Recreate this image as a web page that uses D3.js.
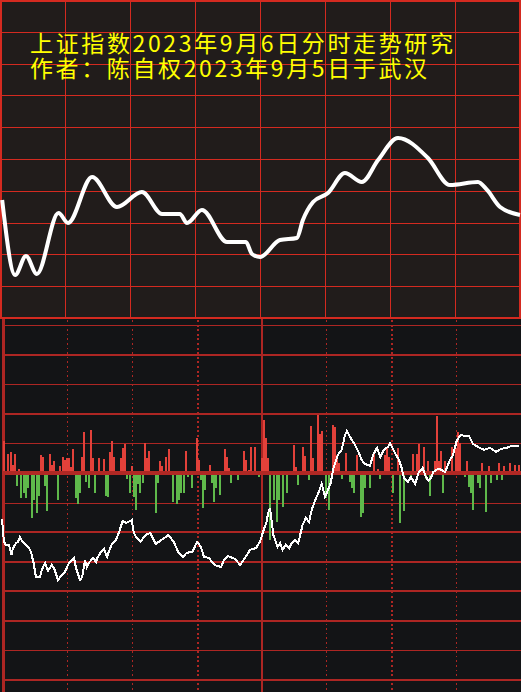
<!DOCTYPE html>
<html><head><meta charset="utf-8">
<script src="https://cdn.jsdelivr.net/npm/d3@7/dist/d3.min.js"></script>
<style>html,body{margin:0;padding:0;background:#131416;overflow:hidden}</style>
</head><body><svg id="c" width="521" height="692"></svg>
<script>
// ---------------- DATA ----------------
const titleLines = ["上证指数2023年9月6日分时走势研究", "作者：陈自权2023年9月5日于武汉"];

// upper panel: forecast curve (minute of session, index level)
const topMinutes = [1, 7, 12, 17, 27, 31.4, 42.5, 54, 65.5, 74.8, 83, 86.3, 93.2, 104.8, 113.5, 116.3, 120, 129.2, 137, 139.8, 144.5, 151.4, 159.2, 167, 174.5, 183.7, 197.5, 207.7, 220.6, 224.8, 230.8, 240];
const topValues  = [3148.55, 3136.76, 3139.75, 3136.92, 3146.51, 3144.94, 3152.17, 3147.45, 3149.81, 3146.35, 3146.35, 3144.94, 3146.98, 3141.95, 3141.95, 3140.06, 3139.59, 3142.26, 3142.58, 3145.41, 3148.24, 3149.65, 3152.80, 3151.38, 3154.84, 3158.30, 3155.16, 3150.91, 3151.38, 3150.13, 3147.45, 3146.19];
const topGridValues = [3135, 3140, 3145, 3150, 3155, 3160, 3165, 3170, 3175];
const gridMinutes = [30, 60, 90, 120, 150, 180, 210];

// lower panel: per-minute bars (positive = red, negative = green)
const volMinutes = [1,3,4,5,6,7,8,9,10,11,12,14,15,16,17,18,19,20,21,22,23,24,26,27,28,29,30,31,32,33,34,35,36,37,38,39,40,41,42,43,45,47,48,49,50,51,52,55,56,57,58,59,60,61,62,63,64,65,66,67,68,71,72,73,74,76,77,79,81,82,83,84,85,86,88,90,91,92,93,94,96,97,98,99,101,103,104,105,106,107,109,112,113,114,115,117,119,120,121,122,123,124,126,127,128,130,132,135,136,137,139,140,142,143,144,146,147,148,150,151,153,154,155,156,157,159,161,162,163,164,166,167,168,170,172,174,175,177,178,179,181,183,184,186,189,190,192,193,195,196,197,198,200,201,202,203,204,205,208,210,211,212,214,215,216,217,218,219,220,221,222,224,225,226,229,230,231,232,235,237,239];
const volValues  = [10.8,6.4,7.1,2.7,6.4,-3.7,1.4,-7.8,-6.1,-7.8,-4.4,-14.5,-8.5,-12.8,-7.1,6.1,5.4,-3.7,-12.2,6.4,2.7,4.1,-8.5,2.4,5.4,4.4,5.1,5.1,2.0,8.1,-7.8,-9.8,-6.1,5.4,13.9,-2.4,-4.4,14.5,5.1,-6.1,5.1,4.7,-7.1,-7.4,7.1,10.8,5.4,5.1,8.5,9.8,-1.4,-6.1,2.4,-7.4,-11.8,-3.0,-6.1,-2.7,10.1,5.1,7.4,-12.8,-2.7,4.1,2.4,5.4,8.1,-9.1,-9.8,-8.5,-6.1,-6.1,7.4,-0.7,-4.4,11.8,4.4,-1.7,-11.2,-5.1,2.7,-2.7,-9.1,-4.4,-6.8,8.1,5.4,1.7,-2.7,0.7,-1.7,7.4,4.4,1.0,8.8,8.8,-0.7,5.1,17.9,11.8,5.1,-22.0,-8.5,-15.9,-8.5,-10.8,-6.1,9.5,2.0,-3.4,8.8,5.7,-1.7,15.9,5.1,19.6,13.2,14.2,-7.8,-11.8,16.2,15.5,6.1,3.4,-1.4,6.8,-2.4,-4.4,-6.1,6.1,-14.2,-12.8,-4.4,-4.4,6.4,1.4,-1.4,6.1,8.8,5.4,-6.1,8.5,-16.2,-12.2,-1.7,6.4,6.4,9.8,8.8,-1.4,4.1,-7.1,4.1,19.3,4.1,7.4,-6.1,4.1,8.8,8.5,13.9,10.1,-0.7,4.1,-4.1,-6.1,-11.8,0.7,-2.7,-4.4,3.4,-12.5,2.4,-2.7,-1.7,3.4,-1.7,2.4,3.4,2.7,2.7];

// lower panel: intraday line
const lowMinutes = [0,0.5,0.9,1.8,3.2,4.4,5.1,6.5,7.4,8.3,9.5,11.1,12.5,13.4,14.6,15.7,17.6,18.4,19.9,21.3,23.0,24.0,25.9,27.7,29.1,30.7,32.2,33.3,34.2,36.1,37.1,38.4,39.2,40.2,42.1,43.5,44.1,45.8,47.2,48.6,49.2,50.7,52.7,54.2,55.8,57.3,58.4,60.0,61.0,62.3,64.1,66.3,68.6,71.1,73.9,76.9,79.4,81.5,83.7,85.4,88.1,90.2,92.0,93.4,95.7,98.2,101.3,102.7,104.5,107.7,110.1,112.4,114.7,117.5,119.3,120.7,122.3,123.1,123.9,125.5,127.4,128.6,129.7,131.2,132.8,134.0,135.5,137.0,139.0,140.5,142.0,143.2,144.9,146.3,147.8,149.4,152.0,153.3,155.3,157.1,158.6,159.5,160.9,163.2,164.8,166.3,167.9,170.2,171.6,173.4,174.9,176.6,178.5,179.4,181.7,183.6,184.8,185.9,187.7,189.1,191.0,192.8,194.5,195.8,197.2,198.4,199.4,200.7,202.3,204.9,207.2,208.6,210.4,212.3,214.1,216.0,217.8,220.1,222.9,225.7,228.4,230.8,233.5,235.4,237.2,239.1];
const lowValues  = [-15.5,-19.9,-23.3,-24.3,-24.3,-27.7,-25.4,-23.7,-23.3,-21.6,-23.3,-24.3,-25.4,-26.7,-30.4,-35.2,-35.2,-32.8,-30.4,-33.1,-31.1,-32.1,-36.2,-34.5,-33.5,-30.8,-29.7,-28.7,-32.1,-36.2,-35.2,-29.4,-31.8,-30.4,-28.7,-30.1,-28.7,-26.7,-25.7,-28.4,-27.0,-24.3,-22.6,-19.9,-16.2,-16.9,-16.6,-15.9,-20.3,-22.0,-23.3,-21.0,-20.3,-24.0,-22.6,-21.0,-23.3,-26.7,-28.4,-27.0,-26.7,-23.3,-25.0,-28.4,-28.7,-31.1,-31.8,-29.4,-28.1,-29.1,-31.1,-28.7,-26.0,-25.4,-23.3,-19.9,-16.6,-13.5,-11.8,-21.0,-25.0,-23.7,-26.0,-24.3,-25.4,-23.7,-22.6,-23.7,-17.6,-15.2,-16.6,-12.5,-9.1,-6.8,-3.7,-8.1,-3.4,1.7,6.1,7.8,12.8,14.2,12.2,9.5,7.1,4.4,3.0,2.4,6.1,8.5,5.4,7.8,8.8,10.1,6.8,4.4,1.7,-1.7,-3.0,-1.4,-3.7,0.3,1.7,-1.0,-2.7,-1.7,0.3,1.0,1.4,0.3,4.4,6.1,11.2,12.8,12.5,12.5,9.8,8.8,7.8,8.5,7.1,8.1,8.5,9.1,9.1,9.1];
const lowGridValues = [50, 40, 30, 20, 10, 0, -10, -20, -30, -40, -50, -60, -70];

// ---------------- DRAW ----------------
const svg = d3.select("#c");
const RED = "#d42a20", LRED = "#ad2623";

// ---- upper panel
const xTop = d3.scaleLinear().domain([0, 240]).range([0, 520]);
const yTop = d3.scaleLinear().domain([3130, 3180]).range([318, 0]);
svg.append("rect").attr("x", 0).attr("y", 0).attr("width", 521).attr("height", 319).attr("fill", "#211c1b");
const gTop = svg.append("g").attr("shape-rendering", "crispEdges");
gTop.selectAll("line.h").data(topGridValues).join("line")
  .attr("x1", 0).attr("x2", 521).attr("y1", d => Math.round(yTop(d)) + 0.5).attr("y2", d => Math.round(yTop(d)) + 0.5)
  .attr("stroke", RED).attr("stroke-width", 1);
gTop.selectAll("line.v").data(gridMinutes).join("line")
  .attr("y1", 0).attr("y2", 318).attr("x1", d => Math.round(xTop(d)) + 0.5).attr("x2", d => Math.round(xTop(d)) + 0.5)
  .attr("stroke", RED).attr("stroke-width", 1);
gTop.append("rect").attr("x", 1).attr("y", 1).attr("width", 519).attr("height", 317)
  .attr("fill", "none").attr("stroke", RED).attr("stroke-width", 2);

const topData = topMinutes.map((m, i) => [m, topValues[i]]);
svg.append("path").datum(topData)
  .attr("d", d3.line().x(d => xTop(d[0])).y(d => yTop(d[1])).curve(d3.curveMonotoneX))
  .attr("fill", "none").attr("stroke", "#fff").attr("stroke-width", 4).attr("stroke-linejoin", "round");

// title
svg.selectAll("text.title").data(titleLines).join("text")
  .attr("x", 30).attr("y", (d, i) => 52 + i * 25)
  .attr("font-family", "'Noto Sans CJK SC', sans-serif").attr("font-size", 23)
  .attr("fill", "#ffff00")
  .attr("textLength", (d, i) => i === 0 ? 423 : 397).attr("lengthAdjust", "spacing")
  .text(d => d);

// ---- lower panel
const xLow = d3.scaleLinear().domain([0, 240]).range([2, 521]);
const yLow = d3.scaleLinear().domain([-70, 50]).range([680, 325]);
svg.append("rect").attr("x", 0).attr("y", 319).attr("width", 521).attr("height", 373).attr("fill", "#131416");
const gLow = svg.append("g").attr("shape-rendering", "crispEdges");
const hWidth = {50: 1, 40: 2, 30: 1, 20: 2, 10: 1, 0: 1, "-10": 1, "-20": 2, "-30": 2, "-40": 2, "-50": 2, "-60": 1, "-70": 2};
gLow.selectAll("line.h").data(lowGridValues).join("line")
  .attr("x1", 2).attr("x2", 521)
  .attr("y1", d => Math.round(yLow(d)) + (hWidth[d] % 2 ? 0.5 : 0))
  .attr("y2", d => Math.round(yLow(d)) + (hWidth[d] % 2 ? 0.5 : 0))
  .attr("stroke", LRED).attr("stroke-width", d => hWidth[d]);
const vThick = {90: 2, 180: 2};
gLow.selectAll("line.v").data(gridMinutes.filter(m => m !== 120)).join("line")
  .attr("y1", 320).attr("y2", 692)
  .attr("x1", d => Math.round(xLow(d)) + 0.5).attr("x2", d => Math.round(xLow(d)) + 0.5)
  .attr("stroke", LRED).attr("stroke-width", d => vThick[d] || 1)
  .attr("stroke-dasharray", d => vThick[d] ? "2,2.6" : "1.5,3.1");
gLow.append("line").attr("x1", 3).attr("x2", 3).attr("y1", 319).attr("y2", 692).attr("stroke", LRED).attr("stroke-width", 3);
gLow.append("line").attr("x1", Math.round(xLow(120))).attr("x2", Math.round(xLow(120))).attr("y1", 319).attr("y2", 692).attr("stroke", LRED).attr("stroke-width", 2);

// bars
const bars = volMinutes.map((m, i) => ({m, v: volValues[i]}));
gLow.selectAll("rect.bar").data(bars).join("rect")
  .attr("x", d => Math.round(xLow(d.m) - 1)).attr("width", 2)
  .attr("y", d => d.v > 0 ? yLow(d.v) : yLow(0) + 2)
  .attr("height", d => Math.abs(yLow(d.v) - yLow(0)))
  .attr("fill", d => d.v > 0 ? "#e2413a" : "#5fb94b");
// zero line
gLow.append("line").attr("x1", 2).attr("x2", 521).attr("y1", yLow(0)).attr("y2", yLow(0))
  .attr("stroke", "#b02824").attr("stroke-width", 4);

// intraday line
const lowData = lowMinutes.map((m, i) => [m, lowValues[i]]);
svg.append("path").datum(lowData)
  .attr("d", d3.line().x(d => xLow(d[0])).y(d => yLow(d[1])))
  .attr("fill", "none").attr("stroke", "#fff").attr("stroke-width", 2)
  .attr("shape-rendering", "crispEdges");

// separator between panels
svg.append("line").attr("x1", 0).attr("x2", 521).attr("y1", 318).attr("y2", 318).attr("stroke", RED).attr("stroke-width", 2);
</script></body></html>
